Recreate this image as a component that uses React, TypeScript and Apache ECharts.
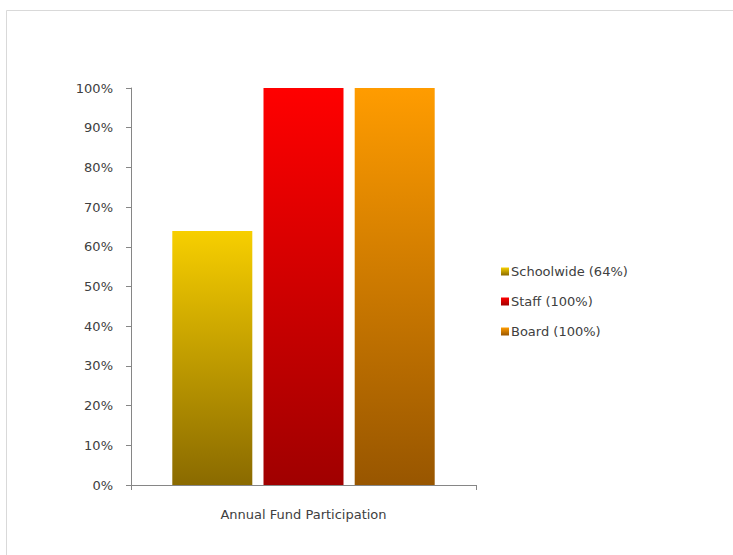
import React, { useEffect, useRef } from "react";
import * as echarts from "echarts";

const categories = ["Annual Fund Participation"];
const seriesNames = ["Schoolwide (64%)", "Staff (100%)", "Board (100%)"];
const seriesValues = [[0.64], [1.0], [1.0]];
const topColors = ["#f7cf00", "#ff0000", "#ff9c00"];
const bottomColors = ["#8a6a00", "#a00000", "#985600"];

export default function App() {
  const ref = useRef<HTMLDivElement>(null);
  useEffect(() => {
    document.body.style.margin = "0";
    const chart = echarts.init(ref.current!, null, { renderer: "svg" });
    const font = "'DejaVu Sans', sans-serif";
    chart.setOption({
      animation: false,
      backgroundColor: "#ffffff",
      graphic: [
        {
          type: "rect",
          shape: { x: 6.5, y: 10.5, width: 740, height: 560 },
          style: { fill: "none", stroke: "#d9d9d9", lineWidth: 1 },
          silent: true,
        },
      ],
      grid: { left: 131, top: 88, right: 257, bottom: 70 },
      legend: {
        orient: "vertical",
        left: 496,
        top: 260,
        itemWidth: 8,
        itemHeight: 8,
        itemGap: 17,
        icon: "rect",
        textStyle: { fontFamily: font, fontSize: 13, color: "#404040", padding: [0, 0, 0, -3] },
        data: seriesNames,
      },
      xAxis: {
        type: "category",
        data: categories,
        axisLine: { lineStyle: { color: "#868686" } },
        axisTick: { show: true, length: 5, lineStyle: { color: "#868686" } },
        axisLabel: { fontFamily: font, fontSize: 13, color: "#404040", margin: 23 },
      },
      yAxis: {
        type: "value",
        min: 0,
        max: 1,
        interval: 0.1,
        axisLine: { show: true, lineStyle: { color: "#868686" } },
        axisTick: { show: true, length: 5, lineStyle: { color: "#868686" } },
        splitLine: { show: false },
        axisLabel: {
          fontFamily: font,
          fontSize: 13,
          color: "#404040",
          margin: 18,
          formatter: (v: number) => Math.round(v * 100) + "%",
        },
      },
      series: seriesNames.map((name, i) => ({
        name,
        type: "bar",
        data: seriesValues[i],
        barWidth: 80,
        barGap: "14%",
        itemStyle: {
          color: new echarts.graphic.LinearGradient(0, 0, 0, 1, [
            { offset: 0, color: topColors[i] },
            { offset: 1, color: bottomColors[i] },
          ]),
        },
      })),
    });
    return () => chart.dispose();
  }, []);
  return <div ref={ref} style={{ width: 733, height: 555 }} />;
}
